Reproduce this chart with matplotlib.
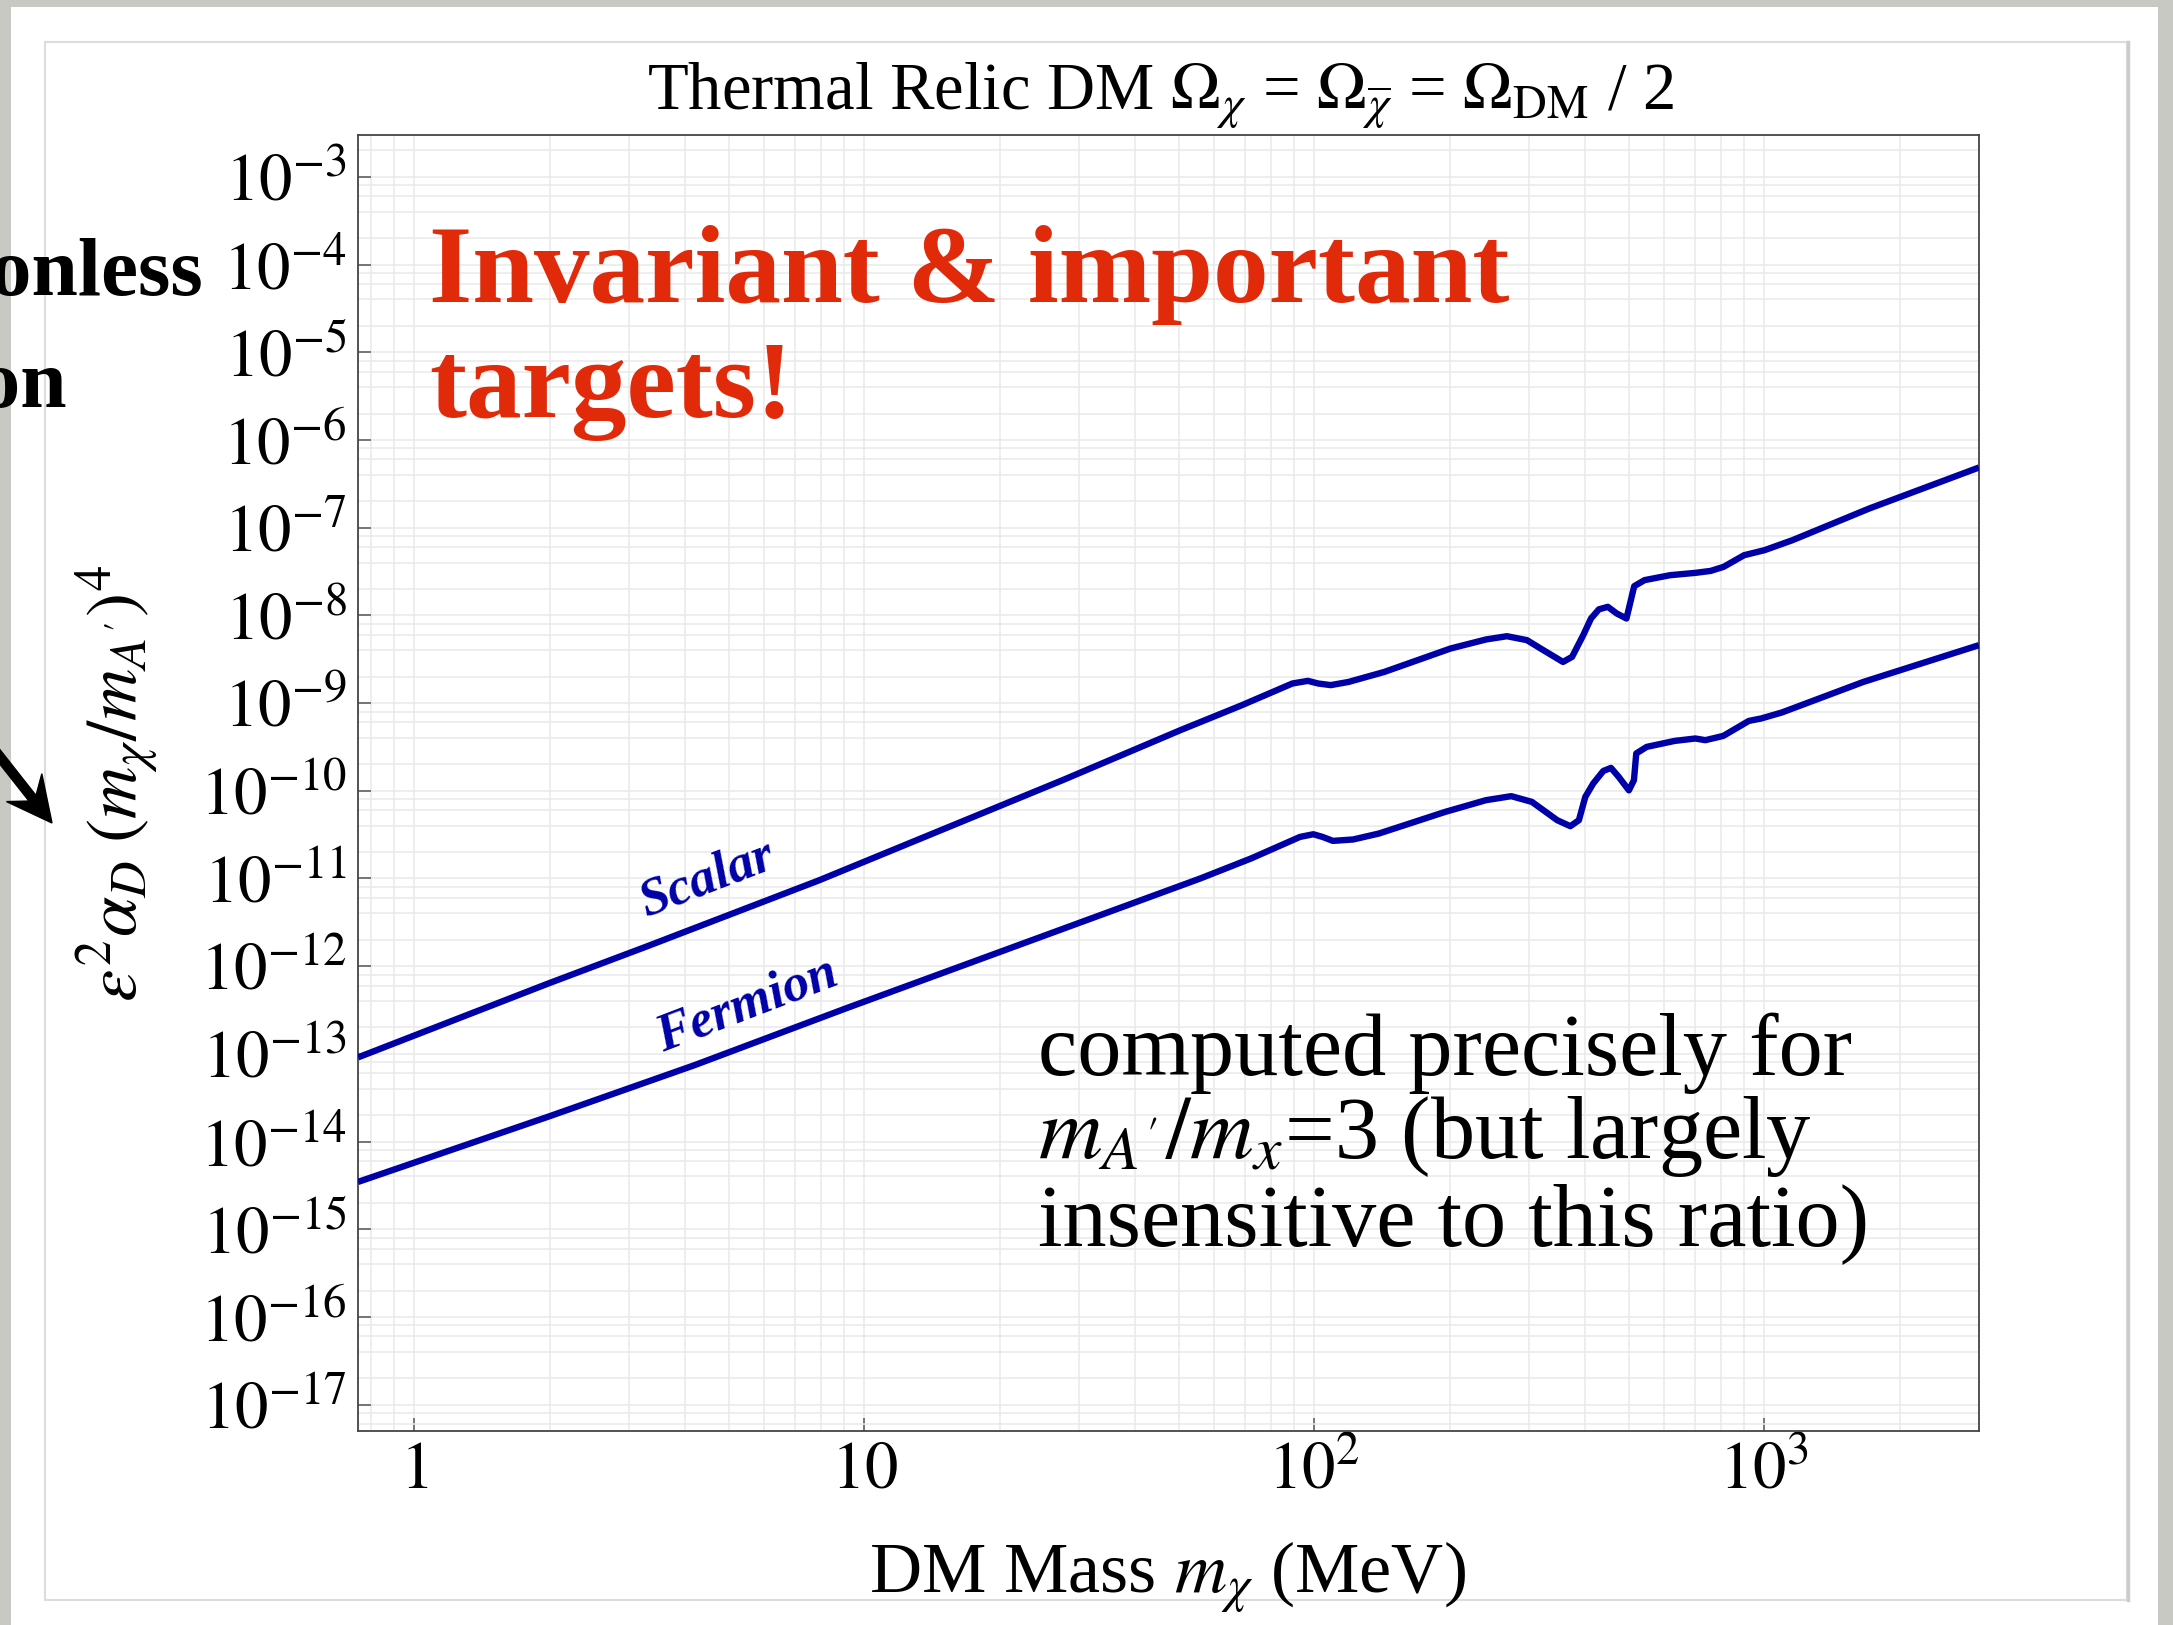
import matplotlib
matplotlib.use("Agg")
import matplotlib.pyplot as plt
from matplotlib.patches import Rectangle, FancyArrow
from matplotlib.ticker import FixedLocator, FixedFormatter, LogLocator, NullFormatter

plt.rcParams['font.family'] = ['Liberation Serif', 'DejaVu Serif']
plt.rcParams['mathtext.fontset'] = 'stix'

# Thermal relic targets: DM mass (MeV) vs eps^2 alpha_D (m_chi/m_A')^4
scalar_mass = [0.75, 1.98, 3.27, 7.93, 27.6, 50.4, 68.9, 89.4, 96.8, 102, 108.8,
               119.2, 143, 201, 241, 268, 297, 321, 357, 374, 396, 412, 429, 449,
               470, 494, 514, 542, 618, 703, 760, 812, 902, 1001, 1155, 1710, 3000]
scalar_coupling = [9.1e-14, 6.3e-13, 1.66e-12, 9.5e-12, 1.32e-10, 4.9e-10, 9.4e-10,
                   1.67e-9, 1.79e-9, 1.67e-9, 1.60e-9, 1.74e-9, 2.26e-9, 4.19e-9,
                   5.31e-9, 5.78e-9, 5.21e-9, 4.08e-9, 2.94e-9, 3.36e-9, 5.94e-9,
                   9.2e-9, 1.17e-8, 1.25e-8, 1.05e-8, 9.2e-9, 2.15e-8, 2.52e-8,
                   2.87e-8, 3.05e-8, 3.21e-8, 3.57e-8, 4.85e-8, 5.53e-8, 7.19e-8,
                   1.65e-7, 4.85e-7]

fermion_mass = [0.75, 1.98, 4.19, 9.11, 55.8, 72.4, 92.9, 99.5, 104.4, 110, 122,
                139.2, 195.5, 240.7, 274, 304.5, 346.7, 370.7, 387.3, 400.2, 416.8,
                438.8, 456.4, 474.7, 500.2, 513.3, 519.4, 547.8, 632.4, 702.8,
                739.6, 810.9, 923.9, 984.7, 1094, 1660, 3000]
fermion_coupling = [3.46e-15, 1.91e-14, 7.4e-14, 3.3e-13, 9.98e-12, 1.69e-11,
                    2.97e-11, 3.19e-11, 2.97e-11, 2.68e-11, 2.78e-11, 3.25e-11,
                    5.74e-11, 7.80e-11, 8.67e-11, 7.46e-11, 4.61e-11, 3.94e-11,
                    4.61e-11, 8.51e-11, 1.21e-10, 1.68e-10, 1.82e-10, 1.44e-10,
                    1.01e-10, 1.32e-10, 2.66e-10, 3.16e-10, 3.70e-10, 3.94e-10,
                    3.77e-10, 4.22e-10, 6.25e-10, 6.67e-10, 7.80e-10, 1.74e-9, 4.57e-9]

x_ticks = [1, 10, 100, 1000]
x_tick_labels = [r"$1$", r"$10$", r"$10^{2}$", r"$10^{3}$"]
y_exponents = [-3, -4, -5, -6, -7, -8, -9, -10, -11, -12, -13, -14, -15, -16, -17]

W, H = 2173, 1625
fig = plt.figure(figsize=(W / 100, H / 100), dpi=100)
fig.patch.set_facecolor("white")


def fx(x):
    return x / W


def fy(y):
    return 1 - y / H


# slide background: textured border and inner frame
for r in [Rectangle((0, 0), fx(11), 1), Rectangle((fx(2158), 0), 1, 1),
          Rectangle((0, fy(7)), 1, 1)]:
    r.set_transform(fig.transFigure)
    r.set_facecolor("#c9c9c3")
    r.set_edgecolor("none")
    r.set_zorder(0)
    fig.add_artist(r)
frame = Rectangle((fx(45), fy(1600)), fx(2127) - fx(45), fy(42) - fy(1600),
                  transform=fig.transFigure, facecolor="none",
                  edgecolor="#dcdcdc", lw=1.5, zorder=0)
fig.add_artist(frame)
fig.add_artist(plt.Line2D([fx(2128), fx(2128)], [fy(42), fy(1600)],
                          transform=fig.transFigure, color="#cccccc", lw=2.5, zorder=0))

ax = fig.add_axes([fx(358), fy(1431), fx(1979) - fx(358), fy(135) - fy(1431)])
ax.set_xscale("log")
ax.set_yscale("log")
ax.set_xlim(0.75, 3000)
ax.set_ylim(5.0e-18, 3.0e-3)

ax.plot(scalar_mass, scalar_coupling, color="#0000a8", lw=4.6, solid_joinstyle="round",
        solid_capstyle="butt", zorder=3)
ax.plot(fermion_mass, fermion_coupling, color="#0000a8", lw=4.6, solid_joinstyle="round",
        solid_capstyle="butt", zorder=3)

# ticks and grid
ax.xaxis.set_major_locator(FixedLocator(x_ticks))
ax.xaxis.set_major_formatter(FixedFormatter(x_tick_labels))
ax.xaxis.set_minor_locator(LogLocator(base=10, subs=(2, 3, 4, 5, 6, 7, 8, 9), numticks=50))
ax.xaxis.set_minor_formatter(NullFormatter())
ax.yaxis.set_major_locator(FixedLocator([10.0 ** e for e in y_exponents]))
ax.yaxis.set_major_formatter(FixedFormatter([rf"$10^{{{e}}}$" for e in y_exponents]))
ax.yaxis.set_minor_locator(LogLocator(base=10, subs=(2, 4, 6, 8), numticks=100))
ax.yaxis.set_minor_formatter(NullFormatter())

ax.grid(which="both", color="#eaeaea", lw=1.1, zorder=0)
ax.set_axisbelow(True)
ax.tick_params(which="minor", length=0)
ax.tick_params(which="major", direction="in", length=9.5, width=1.1, color="#555555",
               top=False, right=False, labelsize=48)
ax.tick_params(axis="y", which="major", pad=8)
ax.tick_params(axis="x", which="major", pad=29)
for lab in ax.get_xticklabels():
    lab.set_verticalalignment("center")
for s in ax.spines.values():
    s.set_color("#444444")
    s.set_linewidth(1.3)

# curve labels
fig.text(fx(707), fy(879), "Scalar", rotation=21, ha="center", va="center",
         fontsize=38, fontweight="bold", fontstyle="italic", color="#0000a8",
         rotation_mode="anchor")
fig.text(fx(747), fy(1005), "Fermion", rotation=21, ha="center", va="center",
         fontsize=38, fontweight="bold", fontstyle="italic", color="#0000a8",
         rotation_mode="anchor")

# titles and axis labels
fig.text(fx(1161), fy(110),
         r"Thermal Relic DM $\Omega_{\chi}$ = $\Omega_{\overline{\chi}}$ = $\Omega_{\mathrm{DM}}$ / 2",
         ha="center", va="baseline", fontsize=48)
fig.text(fx(1168), fy(1593), r"DM Mass $m_{\chi}$ (MeV)", ha="center", va="baseline",
         fontsize=52)
fig.text(fx(118), fy(783), r"$\varepsilon^{2}\alpha_{D}\;(m_{\chi}/m_{A'})^{4}$",
         rotation=90, ha="center", va="center", fontsize=52)

# annotations
red = "#e12a0a"
fig.text(fx(429), fy(302), "Invariant & important", ha="left", va="baseline",
         fontsize=80, fontweight="bold", color=red)
fig.text(fx(429), fy(417), "targets!", ha="left", va="baseline",
         fontsize=80, fontweight="bold", color=red)

fig.text(fx(1038), fy(1075), "computed precisely for", ha="left", va="baseline",
         fontsize=63.5)
fig.text(fx(1038), fy(1158), r"$m_{A'}/m_{x}$=3 (but largely", ha="left",
         va="baseline", fontsize=63.5)
fig.text(fx(1038), fy(1245), "insensitive to this ratio)", ha="left", va="baseline",
         fontsize=63.5)

# neighbouring slide text, running off the left edge
fig.text(fx(203), fy(295), "Dimensionless", ha="right", va="baseline", fontsize=60,
         fontweight="bold", zorder=5)
fig.text(fx(67), fy(407), "combination", ha="right", va="baseline", fontsize=60,
         fontweight="bold", zorder=5)
arrow = FancyArrow(-41 / 100, (H - 705) / 100, 93 / 100, -118 / 100,
                   width=0.09, head_width=0.45, head_length=0.45, overhang=0.3,
                   length_includes_head=True, color="black",
                   transform=fig.dpi_scale_trans, zorder=5)
fig.add_artist(arrow)

fig.savefig("out.png", dpi=100)
